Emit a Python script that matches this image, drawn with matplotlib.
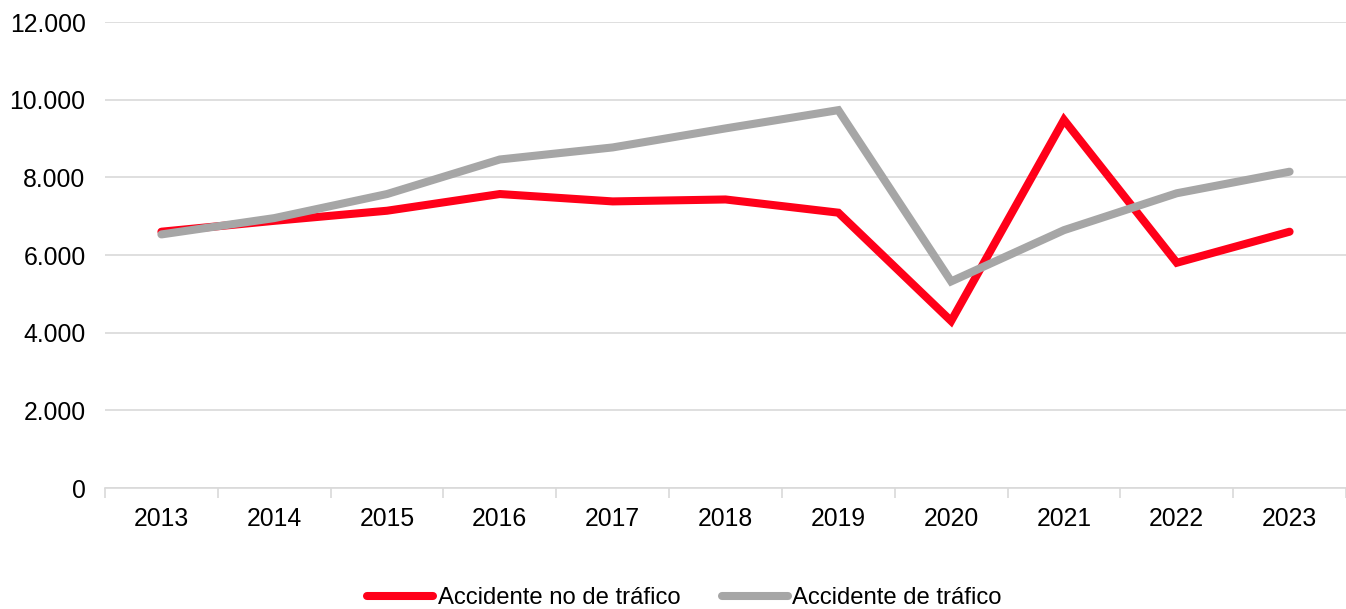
import matplotlib
matplotlib.use("Agg")
import matplotlib.pyplot as plt
from matplotlib.ticker import FuncFormatter

years = ["2013", "2014", "2015", "2016", "2017", "2018", "2019", "2020", "2021", "2022", "2023"]
no_trafico = [6600, 6880, 7140, 7570, 7380, 7430, 7090, 4300, 9480, 5800, 6600]
trafico = [6530, 6950, 7570, 8460, 8770, 9260, 9730, 5320, 6640, 7590, 8145]
yticks = [0, 2000, 4000, 6000, 8000, 10000, 12000]

plt.rcParams['font.family'] = ['Liberation Sans', 'DejaVu Sans']

fig = plt.figure(figsize=(13.46, 6.09), dpi=100)
ax = fig.add_axes([105/1346, 1-488/609, 1-105/1346, (488-22)/609])

x = list(range(len(years)))
ax.plot(x, no_trafico, color='#FF0019', lw=5.8, solid_capstyle='round', solid_joinstyle='miter', label='Accidente no de tráfico', zorder=3)
ax.plot(x, trafico, color='#A6A6A6', lw=5.8, solid_capstyle='round', solid_joinstyle='miter', label='Accidente de tráfico', zorder=3)

ax.set_xlim(-0.5, len(years) - 0.5)
ax.set_ylim(0, 12000)
ax.set_yticks(yticks)
ax.yaxis.set_major_formatter(FuncFormatter(lambda v, p: f"{int(v):,}".replace(",", ".")))
ax.set_xticks(x)
ax.set_xticklabels(years)
ax.set_xticks([i - 0.5 for i in range(len(years) + 1)], minor=True)
ax.tick_params(axis='x', which='major', length=0, pad=14, labelsize=17.8)
ax.tick_params(axis='x', which='minor', length=7, color='#D9D9D9', width=1.2)
ax.tick_params(axis='y', length=0, pad=14, labelsize=17.8)
ax.grid(axis='y', color='#D9D9D9', lw=1.2)
ax.set_axisbelow(True)
for s in ['top', 'right', 'left']:
    ax.spines[s].set_visible(False)
ax.spines['bottom'].set_color('#D9D9D9')
ax.spines['bottom'].set_linewidth(1.2)

fig.legend(loc='center', bbox_to_anchor=(684.5/1346, 1-598/609), ncol=2, frameon=False,
           fontsize=17.2, handlelength=2.75, columnspacing=1.75, handletextpad=0.2)

fig.savefig('out.png', dpi=100)
